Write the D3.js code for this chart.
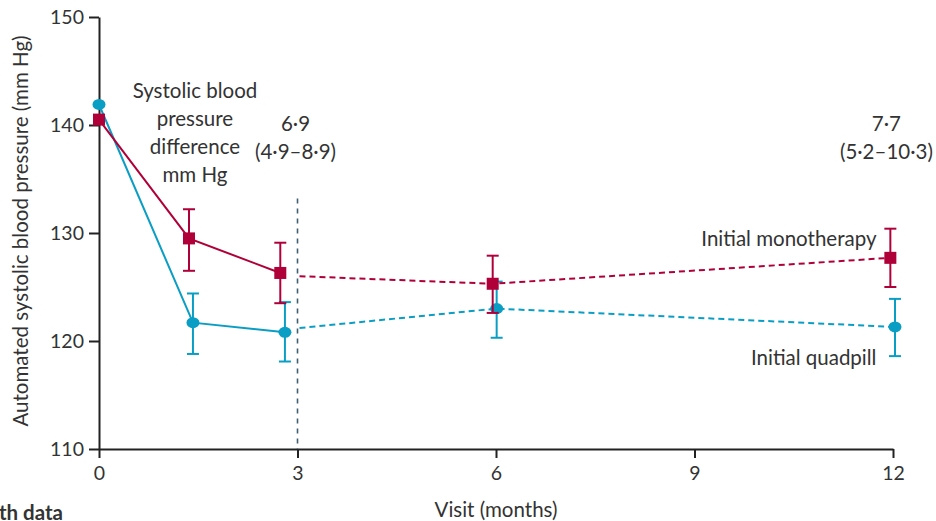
<!DOCTYPE html>
<html>
<head>
<meta charset="utf-8">
<script src="https://cdn.jsdelivr.net/npm/d3@7"></script>
<style>
  body { margin: 0; background: #fff; }
  svg text { font-family: Lato, "Open Sans", sans-serif; fill: #333; }
</style>
</head>
<body>
<div id="chart"></div>
<script>
// values (mm Hg), visits in months (slightly dodged per group)
var xTicks = [0, 3, 6, 9, 12];
var yTicks = [110, 120, 130, 140, 150];

var monoMonths = [0, 1.36, 2.74, 5.95, 11.96];
var monoMean   = [140.5, 129.5, 126.3, 125.3, 127.7];
var monoLow    = [null, 126.5, 123.5, 122.6, 125.0];
var monoHigh   = [null, 132.2, 129.1, 127.9, 130.4];

var quadMonths = [0, 1.42, 2.81, 6.01, 12.03];
var quadMean   = [141.9, 121.7, 120.8, 123.0, 121.3];
var quadLow    = [null, 118.8, 118.1, 120.3, 118.6];
var quadHigh   = [null, 124.4, 123.6, 125.5, 123.9];

// dashed (after 3 months) segments
var dashMonths    = [3.03, 5.95, 11.96];
var monoDashMean  = [126.0, 125.3, 127.7];
var quadDashMonths = [3.03, 6.01, 12.03];
var quadDashMean  = [121.2, 123.0, 121.3];

var diffLabels = [
    {month: 2.97, lines: ["6·9", "(4·9–8·9)"]},
    {month: 11.9, lines: ["7·7", "(5·2–10·3)"]}
];

var red = "#b0003a", blue = "#0a9ec4";
var fs = 20.5;

var margin = {top: 17, right: 43, bottom: 72, left: 99},
    width = 936 - margin.left - margin.right,
    height = 521 - margin.top - margin.bottom;

var svg = d3.select("#chart").append("svg")
    .attr("width", 936)
    .attr("height", 521)
  .append("g")
    .attr("transform", "translate(" + margin.left + "," + margin.top + ")");

var x = d3.scaleLinear().domain([0, 12]).range([0, width]);
var y = d3.scaleLinear().domain([110, 150]).range([height, 0]);

// axes
var xAxis = svg.append("g")
    .attr("transform", "translate(0," + height + ")")
    .call(d3.axisBottom(x).tickValues(xTicks).tickSize(9).tickSizeOuter(0).tickPadding(8));
var yAxis = svg.append("g")
    .call(d3.axisLeft(y).tickValues(yTicks).tickSize(10).tickSizeOuter(0).tickPadding(5));

[xAxis, yAxis].forEach(function(a){
    a.selectAll("path, line").attr("stroke", "#222").attr("stroke-width", 2);
    a.selectAll("text").attr("font-size", 19.5).attr("fill", "#333")
        .style("font-family", "Lato, 'Open Sans', sans-serif");
});

svg.append("text")
    .attr("x", x(6))
    .attr("y", height + 68)
    .attr("text-anchor", "middle")
    .attr("font-size", fs)
    .text("Visit (months)");

svg.append("text")
    .attr("transform", "translate(" + (-margin.left + 28) + "," + (height / 2 - 2) + ") rotate(-90)")
    .attr("text-anchor", "middle")
    .attr("font-size", fs)
    .text("Automated systolic blood pressure (mm Hg)");

// table heading below the plot, cut by the figure edge
svg.append("text")
    .attr("x", -margin.left + 63)
    .attr("y", height + 71)
    .attr("text-anchor", "end")
    .attr("font-size", fs)
    .attr("font-weight", "bold")
    .text("Number with data");

// vertical dashed separator at 3 months
svg.append("line")
    .attr("x1", x(3)).attr("x2", x(3))
    .attr("y1", y(133.2)).attr("y2", y(110))
    .attr("stroke", "#3f6070")
    .attr("stroke-width", 1.6)
    .attr("stroke-dasharray", "5,5");

function drawGroup(months, mean, low, high, dMonths, dMean, color, shape) {
    var line = d3.line()
        .x(function(d){ return x(d[0]); })
        .y(function(d){ return y(d[1]); });

    var solid = d3.range(3).map(function(i){ return [months[i], mean[i]]; });
    svg.append("path")
        .attr("d", line(solid))
        .attr("fill", "none")
        .attr("stroke", color)
        .attr("stroke-width", 2);

    var dashed = dMonths.map(function(m, i){ return [m, dMean[i]]; });
    svg.append("path")
        .attr("d", line(dashed))
        .attr("fill", "none")
        .attr("stroke", color)
        .attr("stroke-width", 2)
        .attr("stroke-dasharray", "6,4");

    var idx = d3.range(months.length).filter(function(i){ return low[i] != null; });
    var eb = svg.selectAll(null).data(idx).enter().append("g");
    eb.append("line")
        .attr("x1", function(i){ return x(months[i]); })
        .attr("x2", function(i){ return x(months[i]); })
        .attr("y1", function(i){ return y(low[i]); })
        .attr("y2", function(i){ return y(high[i]); });
    eb.append("line")
        .attr("x1", function(i){ return x(months[i]) - 6; })
        .attr("x2", function(i){ return x(months[i]) + 6; })
        .attr("y1", function(i){ return y(low[i]); })
        .attr("y2", function(i){ return y(low[i]); });
    eb.append("line")
        .attr("x1", function(i){ return x(months[i]) - 6; })
        .attr("x2", function(i){ return x(months[i]) + 6; })
        .attr("y1", function(i){ return y(high[i]); })
        .attr("y2", function(i){ return y(high[i]); });
    eb.selectAll("line").attr("stroke", color).attr("stroke-width", 2);

    if (shape === "square") {
        svg.selectAll(null).data(months).enter().append("rect")
            .attr("x", function(d){ return x(d) - 6; })
            .attr("y", function(d, i){ return y(mean[i]) - 6; })
            .attr("width", 12)
            .attr("height", 12)
            .attr("fill", color);
    } else {
        svg.selectAll(null).data(months).enter().append("ellipse")
            .attr("cx", function(d){ return x(d); })
            .attr("cy", function(d, i){ return y(mean[i]); })
            .attr("rx", 6.5)
            .attr("ry", 5.5)
            .attr("fill", color);
    }
}

drawGroup(quadMonths, quadMean, quadLow, quadHigh, quadDashMonths, quadDashMean, blue, "circle");
drawGroup(monoMonths, monoMean, monoLow, monoHigh, dashMonths, monoDashMean, red, "square");

// annotations
var note = svg.append("text")
    .attr("text-anchor", "middle")
    .attr("font-size", fs);
["Systolic blood", "pressure", "difference", "mm Hg"].forEach(function(t, i){
    note.append("tspan").attr("x", x(1.45)).attr("y", y(142.5) + i * 28).text(t);
});

diffLabels.forEach(function(d){
    var t = svg.append("text").attr("text-anchor", "middle").attr("font-size", fs);
    d.lines.forEach(function(s, i){
        t.append("tspan").attr("x", x(d.month)).attr("y", y(139.4) + i * 28).text(s);
    });
});

svg.append("text")
    .attr("x", x(11.75))
    .attr("y", y(128.8))
    .attr("text-anchor", "end")
    .attr("font-size", fs)
    .text("Initial monotherapy");

svg.append("text")
    .attr("x", x(11.75))
    .attr("y", y(117.8))
    .attr("text-anchor", "end")
    .attr("font-size", fs)
    .text("Initial quadpill");
</script>
</body>
</html>
